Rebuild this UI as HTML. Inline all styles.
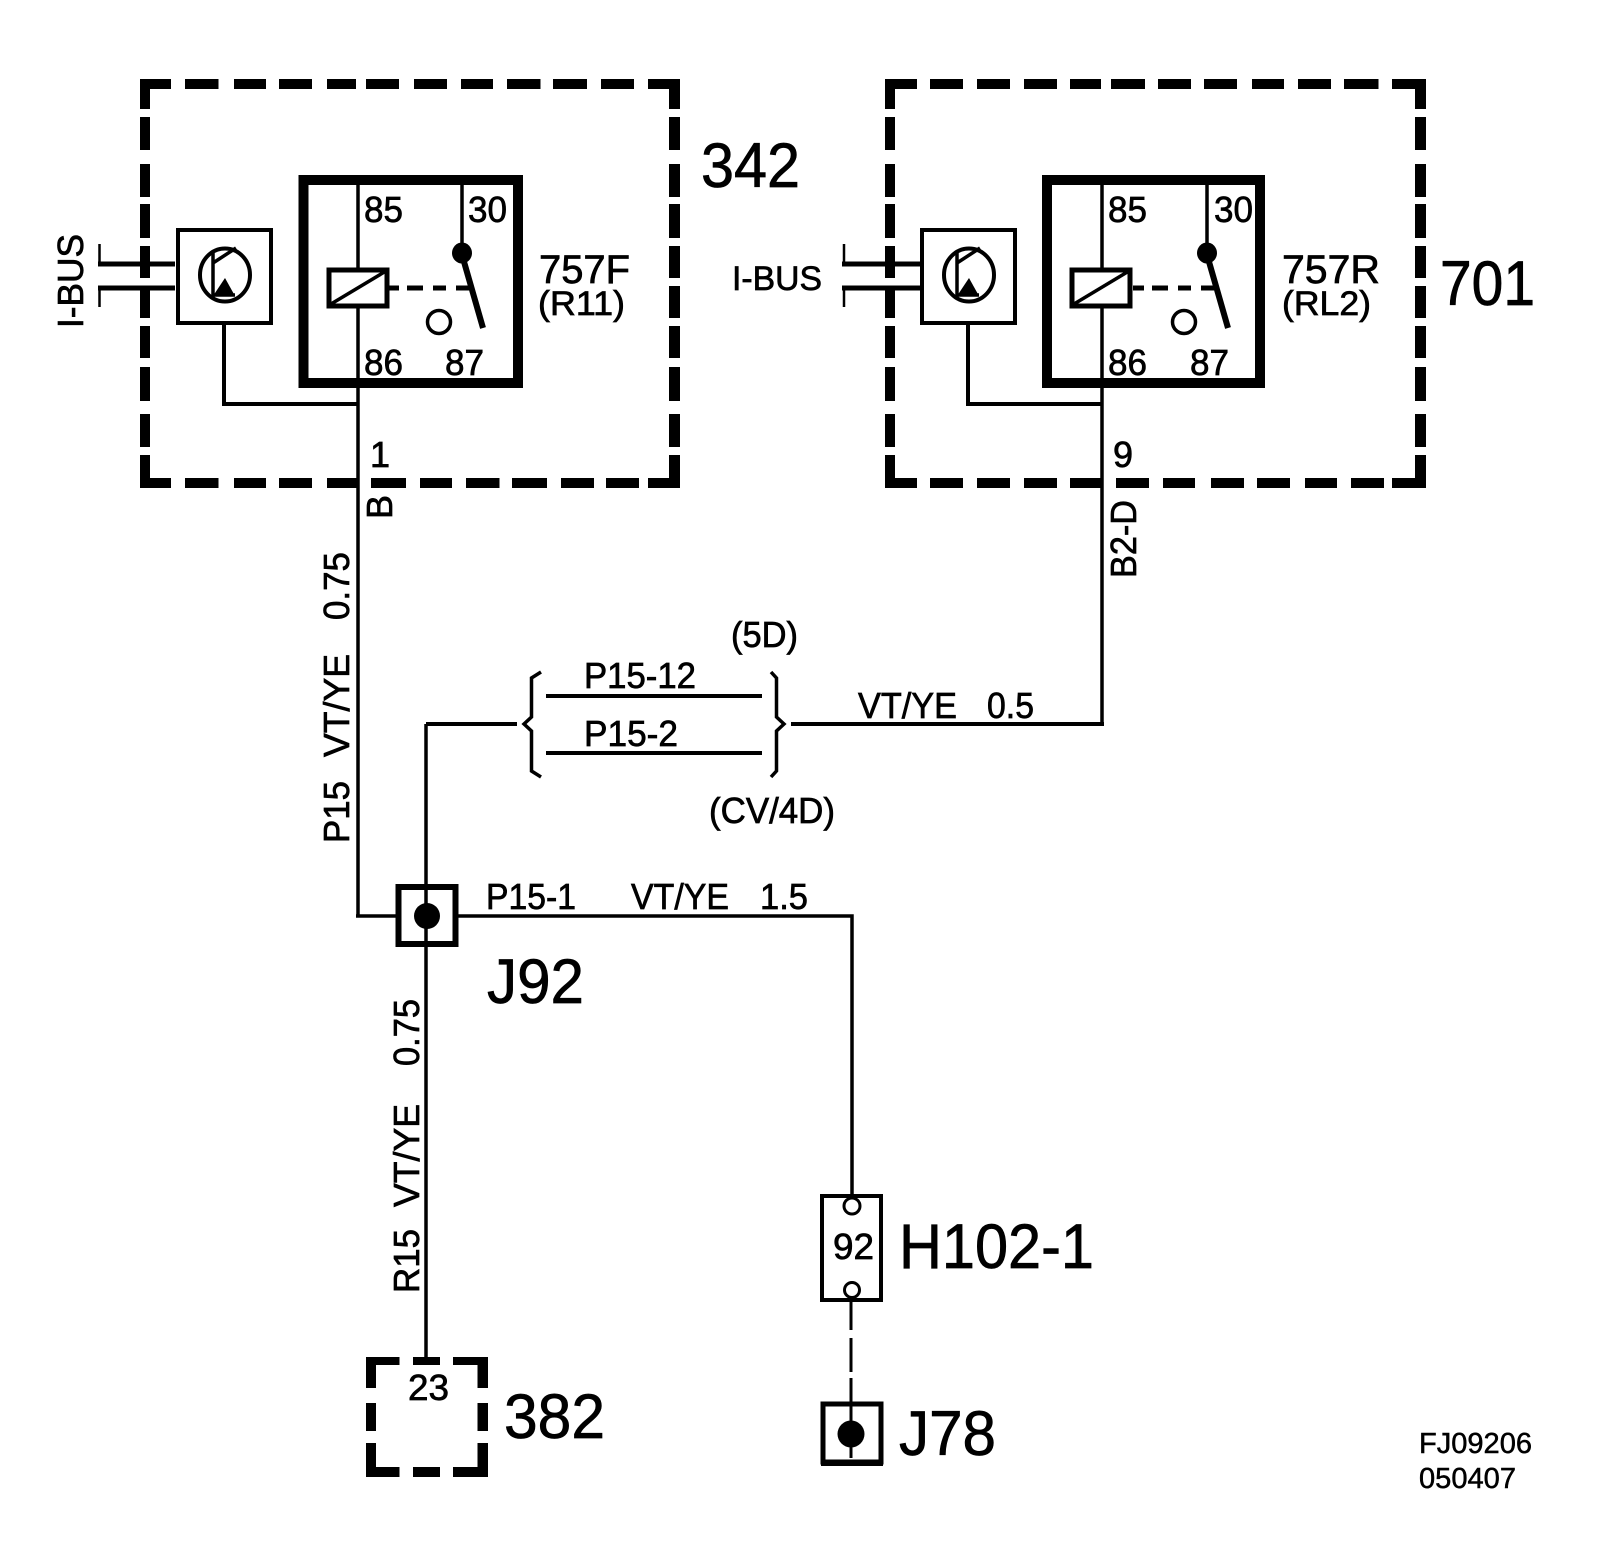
<!DOCTYPE html>
<html><head><meta charset="utf-8"><title>FJ09206</title>
<style>
html,body{margin:0;padding:0;background:#fff}
svg{display:block}
text{font-family:"Liberation Sans",sans-serif;fill:#000;stroke:#000;stroke-width:.7}
.m{font-size:36px}.l{font-size:63px}.s{font-size:29px;stroke-width:.5}
</style></head><body>
<svg xmlns="http://www.w3.org/2000/svg" width="1600" height="1564" viewBox="0 0 1600 1564">
<rect width="1600" height="1564" fill="#fff"/>
<g transform="translate(-2 0)">
<!-- left dashed box -->
<g fill="#000">
<path d="M142 79H173V89H152V109H142ZM187 79H220.5V89H187ZM236 79H268V89H236ZM281 79H314V89H281ZM329 79H358V89H329ZM368 79H401V89H368ZM416 79H449V89H416ZM463 79H495V89H463ZM509 79H542.5V89H509ZM555 79H589V89H555ZM603 79H636V89H603ZM650 79H682V109H671V89H650Z"/>
<path d="M142 455H152V478H173V488H142ZM187 478H220.5V488H187ZM236 478H268V488H236ZM281 478H314V488H281ZM329 478H359V488H329ZM373 478H408V488H373ZM422 478H454V488H422ZM468 478H501.5V488H468ZM514 478H549V488H514ZM563 478H596V488H563ZM608 478H641V488H608ZM650 478H671V455H682V488H650Z"/>
<path d="M142 117H152V150H142ZM142 164H152V197H142ZM142 204H152V238H142ZM142 246H152V278H142ZM142 286H152V318H142ZM142 326H152V358H142ZM142 367H152V401H142ZM142 414H152V447H142Z"/>
<path d="M671 117H682V150H671ZM671 164H682V197H671ZM671 204H682V238H671ZM671 246H682V278H671ZM671 286H682V318H671ZM671 326H682V358H671ZM671 367H682V401H671ZM671 414H682V447H671Z"/>
<!-- right dashed box -->
<path d="M887 79H919V89H897V109H887ZM932 79H965V89H932ZM979 79H1012V89H979ZM1026 79H1059V89H1026ZM1072 79H1103V89H1072ZM1113 79H1147V89H1113ZM1160 79H1193V89H1160ZM1206 79H1239V89H1206ZM1254 79H1286V89H1254ZM1300 79H1333V89H1300ZM1346 79H1380.5V89H1346ZM1394 79H1428V109H1417V89H1394Z"/>
<path d="M887 455H897V478H919V488H887ZM932 478H965V488H932ZM979 478H1012V488H979ZM1026 478H1059V488H1026ZM1072 478H1103V488H1072ZM1118 478H1151V488H1118ZM1165 478H1197V488H1165ZM1213 478H1246V488H1213ZM1259 478H1292V488H1259ZM1307 478H1339V488H1307ZM1353 478H1386V488H1353ZM1394 478H1417V455H1428V488H1394Z"/>
<path d="M887 117H897V150H887ZM887 164H897V197H887ZM887 204H897V238H887ZM887 246H897V278H887ZM887 286H897V318H887ZM887 326H897V358H887ZM887 367H897V401H887ZM887 414H897V447H887Z"/>
<path d="M1417 117H1428V150H1417ZM1417 164H1428V197H1417ZM1417 204H1428V238H1417ZM1417 246H1428V278H1417ZM1417 286H1428V318H1417ZM1417 326H1428V358H1417ZM1417 367H1428V401H1417ZM1417 414H1428V447H1417Z"/>
</g>

<!-- left relay & module -->
<g fill="none" stroke="#000">
<rect x="305.5" y="180" width="214.5" height="203" stroke-width="10"/>
<path d="M360 175V268M360 306V916" stroke-width="3.5"/>
<path d="M464 175V250" stroke-width="3.5"/>
<ellipse cx="464" cy="253" rx="10" ry="10.5" fill="#000" stroke="none"/>
<path d="M465.5 260L485 328" stroke-width="6"/>
<rect x="331" y="270" width="58" height="36" stroke-width="5" fill="#fff"/>
<path d="M333 304L388 271" stroke-width="3.5"/>
<path d="M390 288H401M409 288H425M435 288H448M458 288H471" stroke-width="5"/>
<circle cx="441" cy="322" r="11.5" stroke-width="3.5"/>
<rect x="180" y="230" width="93" height="93" stroke-width="4" fill="#fff"/>
<path d="M226 323V404H360" stroke-width="4"/>
<path d="M100 264H177M100 288H177" stroke-width="5"/>
<path d="M101.5 244V264M101.5 288V307" stroke-width="2.5"/>
<ellipse cx="227" cy="275" rx="25" ry="26.5" stroke-width="4"/>
<path d="M215 253V297M215 263L238 248M215 295H237" stroke-width="3.5"/>
<path d="M215 296L227 278L237 296Z" fill="#000" stroke="none"/>
</g>

<!-- right relay & module -->
<g fill="none" stroke="#000">
<rect x="1049" y="180" width="213" height="203" stroke-width="10"/>
<path d="M1104 175V268M1104 306V724" stroke-width="3.5"/>
<path d="M1209 175V250" stroke-width="3.5"/>
<ellipse cx="1209" cy="253" rx="10" ry="10.5" fill="#000" stroke="none"/>
<path d="M1210.5 260L1230 328" stroke-width="6"/>
<rect x="1074" y="270" width="58" height="36" stroke-width="5" fill="#fff"/>
<path d="M1076 304L1131 271" stroke-width="3.5"/>
<path d="M1135 288H1146M1154 288H1170M1180 288H1193M1203 288H1216" stroke-width="5"/>
<circle cx="1186" cy="322" r="11.5" stroke-width="3.5"/>
<rect x="924" y="230" width="93" height="93" stroke-width="4" fill="#fff"/>
<path d="M970 323V404H1104" stroke-width="4"/>
<path d="M844 264H922M844 288H922" stroke-width="5"/>
<path d="M846 244V264M846 288V307" stroke-width="2.5"/>
<ellipse cx="971" cy="275" rx="25" ry="26.5" stroke-width="4"/>
<path d="M959 253V297M959 263L982 248M959 295H981" stroke-width="3.5"/>
<path d="M959 296L971 278L981 296Z" fill="#000" stroke="none"/>
</g>

<!-- middle wiring -->
<g fill="none" stroke="#000">
<path d="M358 916H400M458 916H854V1202" stroke-width="3.5"/>
<path d="M428 724V1357" stroke-width="3.5"/>
<path d="M428 724H519M793 724H1106" stroke-width="4"/>
<path d="M548 696H764M548 753H764" stroke-width="4"/>
<path d="M543 672L533.5 678V717L526 724L533.5 731V771L543 777" stroke-width="3.5"/>
<path d="M773 672L778.5 678V717L786 724L778.5 731V771L773 777" stroke-width="3.5"/>
<rect x="400.5" y="887" width="57" height="57" stroke-width="6"/>
<circle cx="429" cy="916" r="13" fill="#000" stroke="none"/>
<!-- H102-1 -->
<rect x="824" y="1196" width="59" height="104" stroke-width="4" fill="#fff"/>
<circle cx="854" cy="1206" r="8" stroke-width="3" fill="#fff"/>
<circle cx="854" cy="1290" r="7.5" stroke-width="3" fill="#fff"/>
<path d="M853 1298V1330M853 1338V1372M853 1378V1458" stroke-width="3"/>
<!-- J78 -->
<rect x="825" y="1404" width="58" height="58" stroke-width="5"/>
<path d="M823 1463H885" stroke-width="6"/>
<circle cx="853" cy="1434" r="13.5" fill="#000" stroke="none"/>
</g>

<!-- 382 dashed box -->
<path transform="translate(1 0)" fill="#000" d="M367 1357H400.5V1365H377V1388H367ZM414 1357H441V1365H414ZM454 1357H489V1388H478.5V1365H454ZM367 1403H377V1431H367ZM478.5 1403H489V1431H478.5ZM367 1443H377V1467H400.5V1477H367ZM414 1467H441V1477H414ZM478.5 1443H489V1477H454V1467H478.5Z"/>

<!-- labels -->
<text class="l" x="703" y="187" textLength="99" lengthAdjust="spacingAndGlyphs">342</text>
<text class="l" x="1442" y="305" textLength="95" lengthAdjust="spacingAndGlyphs">701</text>
<text class="m" x="366" y="222" textLength="39" lengthAdjust="spacingAndGlyphs">85</text>
<text class="m" x="470" y="222" textLength="39" lengthAdjust="spacingAndGlyphs">30</text>
<text class="m" x="366" y="375" textLength="39" lengthAdjust="spacingAndGlyphs">86</text>
<text class="m" x="447" y="375" textLength="39" lengthAdjust="spacingAndGlyphs">87</text>
<text class="m" x="1110" y="222" textLength="39" lengthAdjust="spacingAndGlyphs">85</text>
<text class="m" x="1216" y="222" textLength="39" lengthAdjust="spacingAndGlyphs">30</text>
<text class="m" x="1110" y="375" textLength="39" lengthAdjust="spacingAndGlyphs">86</text>
<text class="m" x="1192" y="375" textLength="39" lengthAdjust="spacingAndGlyphs">87</text>
<text x="541" y="283" font-size="40" textLength="91" lengthAdjust="spacingAndGlyphs">757F</text>
<text x="540" y="315" font-size="34" textLength="87" lengthAdjust="spacingAndGlyphs">(R11)</text>
<text x="1284" y="283" font-size="40" textLength="98" lengthAdjust="spacingAndGlyphs">757R</text>
<text x="1284" y="315" font-size="34" textLength="89" lengthAdjust="spacingAndGlyphs">(RL2)</text>
<text class="m" x="372" y="467">1</text>
<text class="m" x="1115" y="467">9</text>
<text x="734" y="290" font-size="34" textLength="90" lengthAdjust="spacingAndGlyphs">I-BUS</text>
<text class="m" x="586" y="688" textLength="112" lengthAdjust="spacingAndGlyphs">P15-12</text>
<text class="m" x="586" y="746" textLength="94" lengthAdjust="spacingAndGlyphs">P15-2</text>
<text class="m" x="733" y="647" textLength="67" lengthAdjust="spacingAndGlyphs">(5D)</text>
<text class="m" x="711" y="823" textLength="126" lengthAdjust="spacingAndGlyphs">(CV/4D)</text>
<text class="m" x="860" y="718" textLength="99" lengthAdjust="spacingAndGlyphs">VT/YE</text>
<text class="m" x="989" y="718" textLength="47" lengthAdjust="spacingAndGlyphs">0.5</text>
<text class="m" x="488" y="909" textLength="90" lengthAdjust="spacingAndGlyphs">P15-1</text>
<text class="m" x="633" y="909" textLength="98" lengthAdjust="spacingAndGlyphs">VT/YE</text>
<text class="m" x="762" y="909" textLength="48" lengthAdjust="spacingAndGlyphs">1.5</text>
<text class="l" x="489" y="1003" textLength="97" lengthAdjust="spacingAndGlyphs">J92</text>
<text class="m" x="410" y="1400" textLength="41" lengthAdjust="spacingAndGlyphs">23</text>
<text class="l" x="506" y="1438" textLength="101" lengthAdjust="spacingAndGlyphs">382</text>
<text class="m" x="835" y="1259" textLength="41" lengthAdjust="spacingAndGlyphs">92</text>
<text class="l" x="901" y="1268" textLength="195" lengthAdjust="spacingAndGlyphs">H102-1</text>
<text class="l" x="901" y="1455" textLength="97" lengthAdjust="spacingAndGlyphs">J78</text>
<text class="s" x="1421" y="1453" textLength="113" lengthAdjust="spacingAndGlyphs">FJ09206</text>
<text class="s" x="1421" y="1488" textLength="97" lengthAdjust="spacingAndGlyphs">050407</text>

<!-- rotated labels -->
<text font-size="36" transform="translate(85 328) rotate(-90)" textLength="94" lengthAdjust="spacingAndGlyphs">I-BUS</text>
<text class="m" transform="translate(394 519) rotate(-90)">B</text>
<text class="m" transform="translate(1138 578) rotate(-90)" textLength="78" lengthAdjust="spacingAndGlyphs">B2-D</text>
<text class="m" transform="translate(351 843) rotate(-90)" textLength="62" lengthAdjust="spacingAndGlyphs">P15</text>
<text class="m" transform="translate(351 757) rotate(-90)" textLength="103" lengthAdjust="spacingAndGlyphs">VT/YE</text>
<text class="m" transform="translate(351 620) rotate(-90)" textLength="68" lengthAdjust="spacingAndGlyphs">0.75</text>
<text class="m" transform="translate(421 1293) rotate(-90)" textLength="64" lengthAdjust="spacingAndGlyphs">R15</text>
<text class="m" transform="translate(421 1207) rotate(-90)" textLength="103" lengthAdjust="spacingAndGlyphs">VT/YE</text>
<text class="m" transform="translate(421 1066) rotate(-90)" textLength="67" lengthAdjust="spacingAndGlyphs">0.75</text>
</g>
</svg>
</body></html>
